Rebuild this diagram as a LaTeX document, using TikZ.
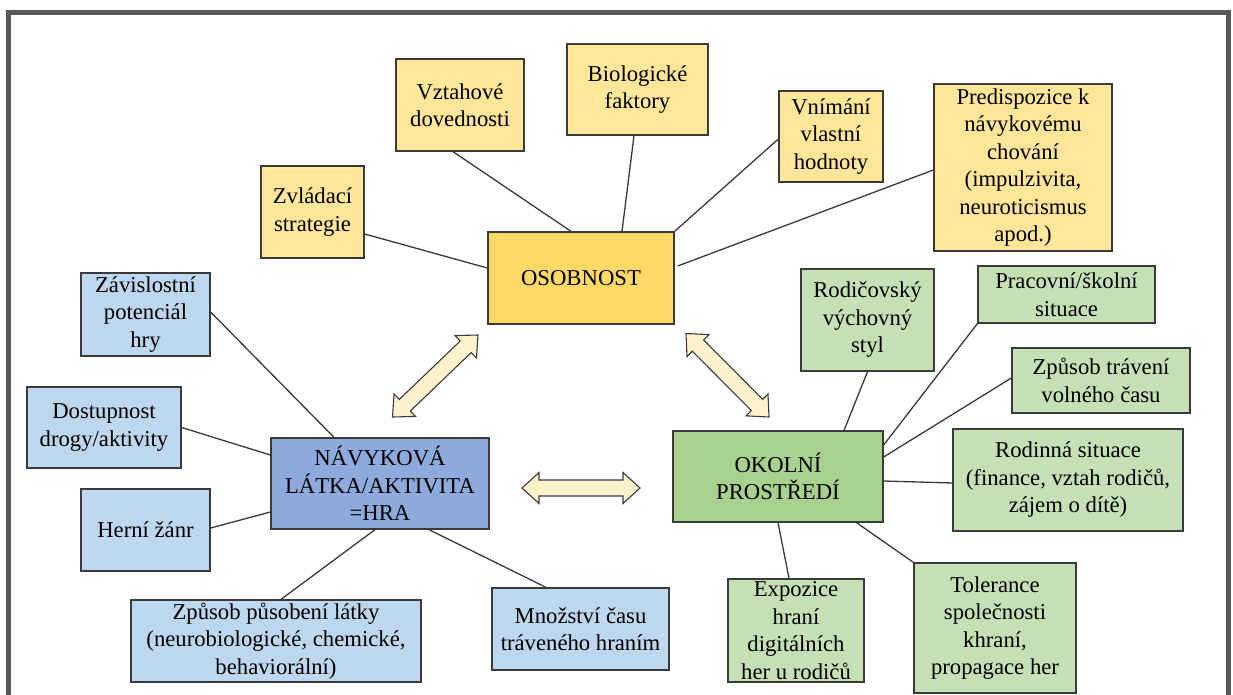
\documentclass[tikz,border=0pt]{standalone}
\usepackage{fontspec}
\setmainfont{Liberation Serif}
\usetikzlibrary{calc}
\definecolor{frameg}{HTML}{595959}
\definecolor{linec}{HTML}{3A3A3A}
\definecolor{yel}{HTML}{FFE699}
\definecolor{yeldark}{HTML}{FFD966}
\definecolor{blu}{HTML}{BDD7EE}
\definecolor{bludark}{HTML}{8EA9DB}
\definecolor{grn}{HTML}{C5E0B4}
\definecolor{grndark}{HTML}{A9D18E}
\definecolor{arrowfill}{HTML}{FFF2CC}
\tikzset{
  box/.style={draw=linec, line width=1.3pt, inner sep=0pt, align=center,
    font=\fontsize{22.7}{27.5}\selectfont},
  link/.style={draw=linec, line width=1.3pt},
  blockarr/.style={draw=linec, line width=1.1pt, fill=arrowfill, line join=miter},
}
\newcommand{\dblarrow}[2]{%
  \path ($(#1)!17pt!(#2)$) coordinate (ba) ($(#2)!17pt!(#1)$) coordinate (bb);
  \draw[blockarr] (#1) -- ($(ba)!15.5pt!90:(#2)$) -- ($(ba)!8pt!90:(#2)$)
    -- ($(bb)!8pt!-90:(#1)$) -- ($(bb)!15.5pt!-90:(#1)$) -- (#2)
    -- ($(bb)!15.5pt!90:(#1)$) -- ($(bb)!8pt!90:(#1)$)
    -- ($(ba)!8pt!-90:(#2)$) -- ($(ba)!15.5pt!-90:(#2)$) -- cycle;}
\begin{document}
\begin{tikzpicture}[x=1pt,y=-1pt]
\useasboundingbox (0,0) rectangle (1233,695);
\fill[white] (0,0) rectangle (1233,695);
\draw[frameg, line width=5pt] (8.5,695) -- (8.5,12.5) -- (1228.3,12.5) -- (1228.3,695);

% OSOBNOST group
\node[box, fill=yel, minimum width=103pt, minimum height=92pt] (zvl) at (312.5,212) {Zvládací\\strategie};
\node[box, fill=yel, minimum width=128pt, minimum height=92pt] (vzt) at (460,105) {Vztahové\\dovednosti};
\node[box, fill=yel, minimum width=141pt, minimum height=91pt] (bio) at (637.5,89.5) {Biologické\\faktory};
\node[box, fill=yel, minimum width=104pt, minimum height=91pt] (vni) at (831,136.5) {Vnímání\\vlastní\\hodnoty};
\node[box, fill=yel, minimum width=178pt, minimum height=167pt] (pre) at (1023,167.5) {Predispozice k\\návykovému\\chování\\(impulzivita,\\neuroticismus\\apod.)};
\node[box, fill=yeldark, minimum width=186pt, minimum height=92pt] (oso) at (581,278) {OSOBNOST};

% NAVYKOVA group
\node[box, fill=blu, minimum width=129pt, minimum height=83pt] (zav) at (145.5,314.5) {Závislostní\\potenciál\\hry};
\node[box, fill=blu, minimum width=154pt, minimum height=81pt] (dos) at (104,427.5) {Dostupnost\\drogy/aktivity};
\node[box, fill=blu, minimum width=129pt, minimum height=82pt] (her) at (145.5,530) {Herní žánr};
\node[box, fill=bludark, minimum width=218pt, minimum height=91pt] (nav) at (380,483.5) {NÁVYKOVÁ\\LÁTKA/AKTIVITA\\=HRA};
\node[box, fill=blu, minimum width=290pt, minimum height=82pt] (zpu) at (276,641) {Způsob působení látky\\(neurobiologické, chemické,\\behaviorální)};
\node[box, fill=blu, minimum width=177pt, minimum height=82pt] (mno) at (580.5,629) {Množství času\\tráveného hraním};

% OKOLNI group
\node[box, fill=grn, minimum width=133pt, minimum height=102pt] (rod) at (867.5,320) {Rodičovský\\výchovný\\styl};
\node[box, fill=grn, minimum width=177pt, minimum height=57pt] (pra) at (1066.5,294.5) {Pracovní/školní\\situace};
\node[box, fill=grn, minimum width=178pt, minimum height=65pt] (vol) at (1101,380.5) {Způsob trávení\\volného času};
\node[box, fill=grn, minimum width=230pt, minimum height=102pt] (rsi) at (1068,480) {Rodinná situace\\(finance, vztah rodičů,\\zájem o dítě)};
\node[box, fill=grndark, minimum width=210pt, minimum height=91pt] (oko) at (778,476.5) {OKOLNÍ\\PROSTŘEDÍ};
\node[box, fill=grn, minimum width=136pt, minimum height=103pt] (exp) at (796,630.5) {Expozice\\hraní\\digitálních\\her u rodičů};
\node[box, fill=grn, minimum width=162pt, minimum height=130pt] (tol) at (995,628) {Tolerance\\společnosti\\khraní,\\propagace her};

% connectors OSOBNOST
\draw[link] ([yshift=-22pt]zvl.east) -- ([yshift=10pt]oso.west);
\draw[link] ([xshift=-7pt]vzt.south) -- ([xshift=-10pt]oso.north);
\draw[link] ([xshift=-3.5pt]bio.south) -- ([xshift=41pt]oso.north);
\draw[link] ([yshift=-2.5pt]vni.west) -- (oso.north east);
\draw[link] ([yshift=-2.5pt]pre.west) -- ([xshift=3pt,yshift=12pt]oso.east);

% connectors NAVYKOVA
\draw[link] ([yshift=2.5pt]zav.east) -- ([xshift=-46pt]nav.north);
\draw[link] (dos.east) -- ([yshift=28.5pt]nav.west);
\draw[link] ([yshift=2pt]her.east) -- ([yshift=-28.5pt]nav.west);
\draw[link] ([xshift=-5pt]nav.south) -- ([xshift=5pt]zpu.north);
\draw[link] ([xshift=49pt]nav.south) -- ([xshift=-34.5pt]mno.north);

% connectors OKOLNI
\draw[link] (rod.south) -- ([xshift=66pt]oko.north);
\draw[link] (pra.south west) -- ([yshift=31.5pt]oko.east);
\draw[link] ([yshift=2.5pt]vol.west) -- ([yshift=19.5pt]oko.east);
\draw[link] ([yshift=-3pt]rsi.west) -- ([yshift=-4.5pt]oko.east);
\draw[link] (oko.south) -- ([xshift=-7pt]exp.north);
\draw[link] ([xshift=78.5pt]oko.south) -- (tol.north west);

% block arrows
\coordinate (a1) at (478,335);
\coordinate (a2) at (392.5,417);
\coordinate (b1) at (686,333.5);
\coordinate (b2) at (769,417);
\coordinate (c1) at (522,488);
\coordinate (c2) at (640,488);
\dblarrow{a1}{a2}
\dblarrow{b1}{b2}
\dblarrow{c1}{c2}
\end{tikzpicture}
\end{document}
